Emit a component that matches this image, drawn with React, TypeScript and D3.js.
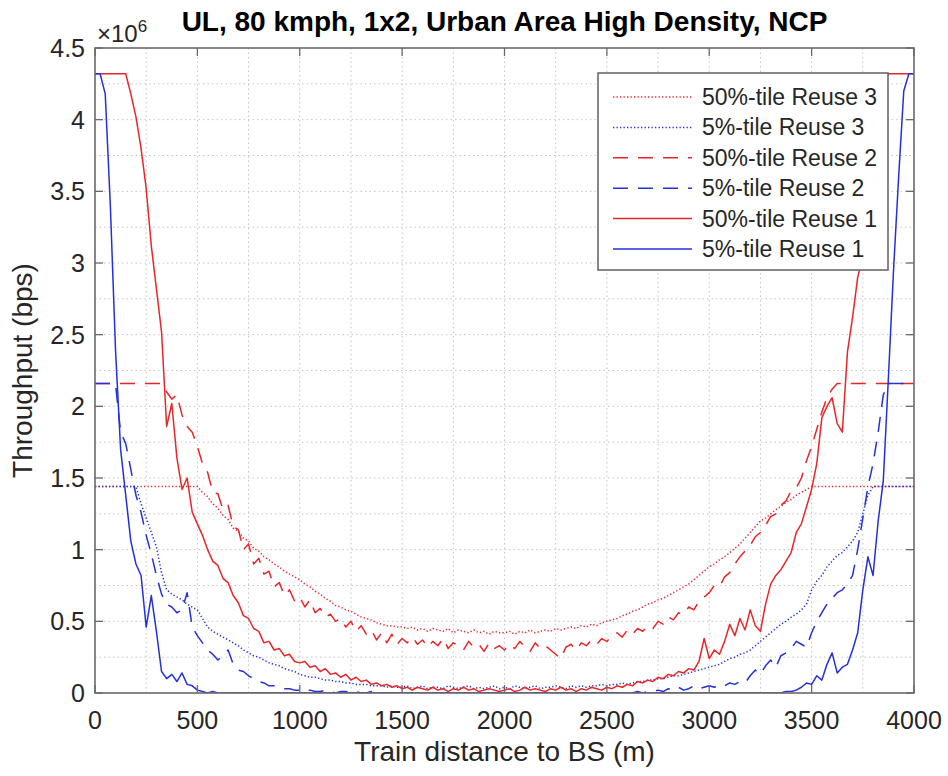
import React from 'react';
import * as d3 from 'd3';

// distance grid (m), one sample every 25 m
const distanceM: number[] = d3.range(0, 4001, 25);

// throughput values in units of 1e6 bps
const p50Reuse1: number[] = [
  4.32,4.32,4.32,4.32,4.32,4.32,4.32,4.18,4.02,3.80,3.52,3.12,2.82,2.52,1.86,2.02,1.64,1.42,1.50,1.26,
  1.18,1.10,1.00,0.92,0.89,0.80,0.77,0.68,0.63,0.54,0.52,0.45,0.43,0.35,0.36,0.30,0.31,0.26,0.27,0.22,
  0.21,0.22,0.18,0.19,0.15,0.17,0.13,0.14,0.11,0.13,0.09,0.11,0.08,0.09,0.06,0.07,0.05,0.06,0.04,0.05,
  0.03,0.04,0.02,0.04,0.03,0.02,0.04,0.02,0.03,0.01,0.03,0.02,0.04,0.02,0.03,0.01,0.02,0.03,0.02,0.01,
  0.02,0.03,0.01,0.02,0.04,0.02,0.03,0.02,0.01,0.03,0.02,0.04,0.02,0.03,0.01,0.03,0.02,0.04,0.03,0.02,
  0.04,0.03,0.05,0.04,0.06,0.05,0.08,0.07,0.09,0.08,0.11,0.10,0.13,0.12,0.15,0.14,0.17,0.16,0.22,0.38,
  0.24,0.30,0.27,0.36,0.48,0.40,0.52,0.44,0.58,0.47,0.43,0.62,0.76,0.82,0.86,0.92,0.98,1.12,1.18,1.30,
  1.42,1.60,1.92,2.00,2.06,1.88,1.82,2.38,2.62,2.90,3.05,3.40,3.70,3.98,4.22,4.32,4.32,4.32,4.32,4.32,
  4.32,
];

const p5Reuse1: number[] = [
  4.32,4.32,4.18,3.40,2.40,1.70,1.38,1.06,0.90,0.82,0.46,0.68,0.43,0.15,0.10,0.13,0.08,0.14,0.06,0.05,
  0.02,0.01,0,0.01,0,0,0,0,0,0,0,0,0,0,0,0,0,0,0,0,
  0,0,0,0,0,0,0,0,0,0,0,0,0,0,0,0,0,0,0,0,
  0,0,0,0,0,0,0,0,0,0,0,0,0,0,0,0,0,0,0,0,
  0,0,0,0,0,0,0,0,0,0,0,0,0,0,0,0,0,0,0,0,
  0,0,0,0,0,0,0,0,0,0,0,0,0,0,0,0,0,0,0,0,
  0,0,0,0,0,0,0,0,0,0,0,0,0,0,0,0.01,0.01,0.02,0.04,0.07,
  0.06,0.12,0.09,0.20,0.28,0.14,0.18,0.20,0.30,0.42,0.72,0.95,0.82,1.20,1.48,2.20,2.95,3.60,4.20,4.32,
  4.32,
];

const p50Reuse2: number[] = [
  2.16,2.16,2.16,2.16,2.16,2.16,2.16,2.16,2.16,2.16,2.16,2.16,2.16,2.16,2.10,2.05,2.08,1.94,1.86,1.82,
  1.72,1.60,1.54,1.40,1.39,1.28,1.31,1.16,1.14,1.00,1.04,0.90,0.94,0.83,0.85,0.74,0.77,0.68,0.72,0.64,
  0.67,0.60,0.65,0.56,0.59,0.53,0.55,0.50,0.52,0.46,0.50,0.43,0.47,0.41,0.44,0.37,0.42,0.35,0.41,0.34,
  0.38,0.35,0.39,0.34,0.37,0.32,0.36,0.33,0.38,0.31,0.35,0.33,0.30,0.36,0.32,0.34,0.29,0.35,0.31,0.33,
  0.30,0.34,0.31,0.36,0.32,0.29,0.35,0.31,0.33,0.30,0.27,0.24,0.32,0.34,0.30,0.35,0.33,0.37,0.34,0.38,
  0.36,0.40,0.42,0.39,0.44,0.41,0.45,0.43,0.47,0.45,0.50,0.48,0.53,0.51,0.56,0.55,0.60,0.58,0.64,0.67,
  0.70,0.75,0.74,0.81,0.84,0.90,0.95,0.99,1.03,1.09,1.12,1.17,1.23,1.25,1.31,1.34,1.41,1.43,1.50,1.62,
  1.72,1.84,1.96,2.06,2.12,2.16,2.16,2.16,2.16,2.16,2.16,2.16,2.16,2.16,2.16,2.16,2.16,2.16,2.16,2.16,
  2.16,
];

const p5Reuse2: number[] = [
  2.16,2.16,2.16,2.16,2.16,1.82,1.74,1.56,1.38,1.26,1.10,0.97,0.82,0.69,0.62,0.60,0.56,0.58,0.70,0.46,
  0.40,0.35,0.30,0.27,0.23,0.26,0.30,0.20,0.16,0.15,0.12,0.10,0.08,0.07,0.05,0.05,0.04,0.03,0.03,0.02,
  0.02,0.01,0.02,0.01,0.01,0.02,0.01,0,0.01,0.01,0,0.01,0,0,0.01,0,0,0,0,0,
  0,0,0,0,0,0,0,0,0,0,0,0,0,0,0,0,0,0,0,0,
  0,0,0,0,0,0,0,0,0,0,0,0,0,0,0,0,0,0,0,0,
  0,0,0,0,0,0,0.01,0,0.01,0.01,0.02,0.01,0.03,0.02,0.04,0.02,0.03,0.05,0.03,0.04,
  0.05,0.04,0.06,0.05,0.07,0.06,0.08,0.07,0.12,0.16,0.13,0.19,0.23,0.18,0.26,0.28,0.31,0.36,0.34,0.32,
  0.42,0.50,0.56,0.62,0.66,0.70,0.72,0.76,0.82,1.00,1.22,1.44,1.60,1.82,2.08,2.16,2.16,2.16,2.16,2.16,
  2.16,
];

const p50Reuse3: number[] = [
  1.44,1.44,1.44,1.44,1.44,1.44,1.44,1.44,1.44,1.44,1.44,1.44,1.44,1.44,1.44,1.44,1.44,1.44,1.44,1.44,
  1.44,1.40,1.37,1.32,1.29,1.24,1.21,1.15,1.13,1.08,1.06,1.01,0.99,0.95,0.93,0.90,0.88,0.85,0.83,0.81,
  0.79,0.76,0.74,0.71,0.69,0.66,0.64,0.61,0.60,0.58,0.57,0.55,0.53,0.52,0.51,0.49,0.48,0.47,0.47,0.46,
  0.46,0.45,0.46,0.44,0.45,0.43,0.45,0.44,0.43,0.45,0.42,0.44,0.43,0.42,0.44,0.42,0.43,0.41,0.43,0.42,
  0.42,0.43,0.41,0.43,0.42,0.44,0.42,0.43,0.44,0.43,0.45,0.44,0.45,0.46,0.45,0.47,0.46,0.48,0.47,0.49,
  0.50,0.51,0.52,0.54,0.55,0.57,0.58,0.60,0.62,0.63,0.65,0.66,0.68,0.70,0.72,0.74,0.76,0.79,0.82,0.85,
  0.88,0.90,0.93,0.95,0.98,1.01,1.04,1.08,1.12,1.16,1.20,1.22,1.25,1.28,1.30,1.33,1.35,1.38,1.40,1.42,
  1.44,1.44,1.44,1.44,1.44,1.44,1.44,1.44,1.44,1.44,1.44,1.44,1.44,1.44,1.44,1.44,1.44,1.44,1.44,1.44,
  1.44,
];

const p5Reuse3: number[] = [
  1.44,1.44,1.44,1.44,1.44,1.44,1.44,1.44,1.44,1.32,1.22,1.12,1.02,0.84,0.72,0.69,0.67,0.65,0.62,0.60,
  0.58,0.52,0.46,0.43,0.41,0.39,0.37,0.35,0.33,0.30,0.28,0.26,0.25,0.23,0.21,0.20,0.19,0.17,0.16,0.15,
  0.13,0.12,0.11,0.11,0.10,0.09,0.09,0.08,0.08,0.07,0.07,0.06,0.06,0.06,0.05,0.05,0.05,0.04,0.05,0.04,
  0.04,0.05,0.03,0.04,0.05,0.03,0.04,0.04,0.03,0.05,0.04,0.03,0.04,0.05,0.03,0.04,0.03,0.04,0.05,0.03,
  0.04,0.03,0.05,0.04,0.03,0.04,0.05,0.03,0.04,0.04,0.05,0.04,0.03,0.05,0.04,0.05,0.04,0.05,0.05,0.06,
  0.05,0.06,0.06,0.07,0.06,0.07,0.08,0.08,0.09,0.09,0.10,0.10,0.11,0.12,0.12,0.13,0.14,0.15,0.16,0.17,
  0.18,0.19,0.20,0.22,0.24,0.25,0.27,0.28,0.30,0.33,0.36,0.39,0.42,0.45,0.48,0.50,0.53,0.55,0.58,0.62,
  0.72,0.78,0.82,0.88,0.92,0.96,0.98,1.02,1.06,1.12,1.25,1.38,1.44,1.44,1.44,1.44,1.44,1.44,1.44,1.44,
  1.44,
];

const xTicks: number[] = [0, 500, 1000, 1500, 2000, 2500, 3000, 3500, 4000];
const yTicks: number[] = [0, 0.5, 1, 1.5, 2, 2.5, 3, 3.5, 4, 4.5];
const xGrid: number[] = [250, 500, 750, 1000, 1250, 1500, 1750, 2000, 2250, 2500, 2750, 3000, 3250, 3500, 3750];
const yGrid: number[] = [0.25, 0.5, 0.75, 1, 1.25, 1.5, 1.75, 2, 2.25, 2.5, 2.75, 3, 3.25, 3.5, 3.75, 4, 4.25];

const RED = '#e8262a';
const BLUE = '#2430dc';
const DOT = '1.3,2.2';
const DASH = '15,10';

const seriesList = [
  { name: '50%-tile Reuse 3', values: p50Reuse3, color: RED, dash: DOT },
  { name: '5%-tile Reuse 3', values: p5Reuse3, color: BLUE, dash: DOT },
  { name: '50%-tile Reuse 2', values: p50Reuse2, color: RED, dash: DASH },
  { name: '5%-tile Reuse 2', values: p5Reuse2, color: BLUE, dash: DASH },
  { name: '50%-tile Reuse 1', values: p50Reuse1, color: RED, dash: '' },
  { name: '5%-tile Reuse 1', values: p5Reuse1, color: BLUE, dash: '' },
];

const FONT = '"Liberation Sans", Arial, Helvetica, sans-serif';

export default function App() {
  const W = 948;
  const H = 776;
  const L = 95, R = 914, T = 48, B = 693;
  const x = d3.scaleLinear().domain([0, 4000]).range([L, R]);
  const y = d3.scaleLinear().domain([0, 4.5]).range([B, T]);
  const lineGen = d3
    .line<number>()
    .x((_, i) => x(distanceM[i]))
    .y((d) => y(d));

  const axisColor = '#6a6a6a';
  const textColor = '#262626';
  const gridColor = '#c4c4c4';
  const tickLen = 8;

  const legX = 598, legY = 73, legW = 290, legH = 197;
  const rowH = 30.4;

  return (
    <svg
      width={W}
      height={H}
      viewBox={`0 0 ${W} ${H}`}
      style={{ position: 'absolute', left: 0, top: 0, background: '#fff', fontFamily: FONT }}
    >
      <rect x={0} y={0} width={W} height={H} fill="#fff" />
      <defs>
        <clipPath id="plotClip">
          <rect x={L} y={T} width={R - L} height={B - T} />
        </clipPath>
      </defs>

      {/* grid */}
      <g stroke={gridColor} strokeWidth={1} strokeDasharray="1.5,3">
        {xGrid.map((v) => (
          <line key={'gx' + v} x1={x(v)} x2={x(v)} y1={T} y2={B} />
        ))}
        {yGrid.map((v) => (
          <line key={'gy' + v} x1={L} x2={R} y1={y(v)} y2={y(v)} />
        ))}
      </g>

      {/* series */}
      <g clipPath="url(#plotClip)" fill="none">
        {seriesList.map((s) => (
          <path
            key={s.name}
            d={lineGen(s.values) || ''}
            stroke={s.color}
            strokeWidth={1.5}
            strokeDasharray={s.dash || undefined}
            strokeLinejoin="round"
          />
        ))}
      </g>

      {/* axes box */}
      <rect x={L} y={T} width={R - L} height={B - T} fill="none" stroke={axisColor} strokeWidth={1.6} />

      {/* ticks */}
      <g stroke={axisColor} strokeWidth={1.3}>
        {xTicks.map((v) => (
          <g key={'xt' + v}>
            <line x1={x(v)} x2={x(v)} y1={B} y2={B - tickLen} />
            <line x1={x(v)} x2={x(v)} y1={T} y2={T + tickLen} />
          </g>
        ))}
        {yTicks.map((v) => (
          <g key={'yt' + v}>
            <line x1={L} x2={L + tickLen} y1={y(v)} y2={y(v)} />
            <line x1={R} x2={R - tickLen} y1={y(v)} y2={y(v)} />
          </g>
        ))}
      </g>

      {/* tick labels */}
      <g fill={textColor} fontSize={25}>
        {xTicks.map((v) => (
          <text key={'xl' + v} x={x(v)} y={B + 36} textAnchor="middle">
            {String(v)}
          </text>
        ))}
        {yTicks.map((v) => (
          <text key={'yl' + v} x={L - 10} y={y(v) + 9} textAnchor="end">
            {String(v)}
          </text>
        ))}
      </g>

      {/* exponent */}
      <text x={97} y={42} fill={textColor} fontSize={24}>
        ×10
        <tspan fontSize={17} dy={-10}>6</tspan>
      </text>

      {/* title */}
      <text x={(L + R) / 2} y={31} textAnchor="middle" fontSize={28} fontWeight="bold" fill="#000">
        UL, 80 kmph, 1x2, Urban Area High Density, NCP
      </text>

      {/* axis labels */}
      <text x={(L + R) / 2} y={761} textAnchor="middle" fontSize={28} fill={textColor}>
        Train distance to BS (m)
      </text>
      <text
        transform={`translate(32, ${(T + B) / 2}) rotate(-90)`}
        textAnchor="middle"
        fontSize={28}
        fill={textColor}
      >
        Throughput (bps)
      </text>

      {/* legend */}
      <g>
        <rect x={legX} y={legY} width={legW} height={legH} fill="#fff" stroke={axisColor} strokeWidth={1.6} />
        {seriesList.map((s, i) => {
          const cy = legY + 24 + i * rowH;
          return (
            <g key={'lg' + i}>
              <line
                x1={613}
                x2={692}
                y1={cy}
                y2={cy}
                stroke={s.color}
                strokeWidth={1.5}
                strokeDasharray={s.dash || undefined}
              />
              <text x={702} y={cy + 8} fontSize={23} fill={textColor}>
                {s.name}
              </text>
            </g>
          );
        })}
      </g>
    </svg>
  );
}
